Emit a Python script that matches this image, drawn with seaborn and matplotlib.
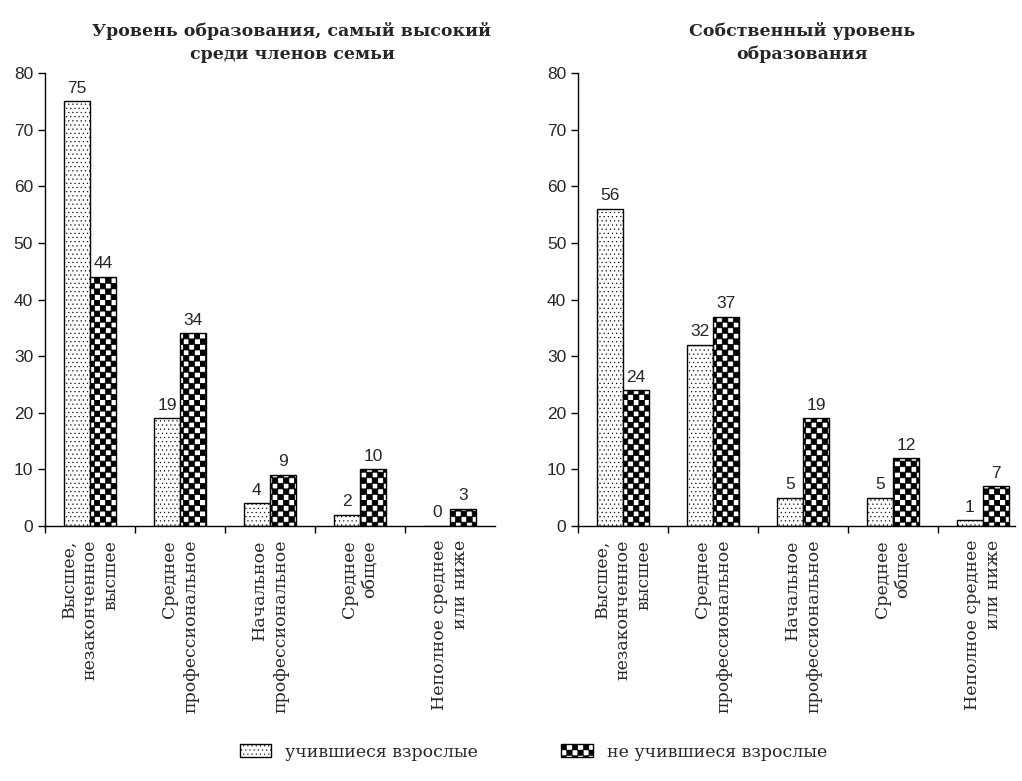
import warnings
import numpy as np
import pandas as pd
import matplotlib
matplotlib.use("Agg")
import matplotlib.pyplot as plt
import matplotlib.hatch as mhatch
from matplotlib.path import Path
import seaborn as sns

warnings.filterwarnings("ignore")

levels = ["Высшее,\nнезаконченное\nвысшее",
          "Среднее\nпрофессиональное",
          "Начальное\nпрофессиональное",
          "Среднее\nобщее",
          "Неполное среднее\nили ниже"]
groups = ["учившиеся взрослые", "не учившиеся взрослые"]

family_studied = [75, 19, 4, 2, 0]
family_not_studied = [44, 34, 9, 10, 3]
own_studied = [56, 32, 5, 5, 1]
own_not_studied = [24, 37, 19, 12, 7]

titles = ["Уровень образования, самый высокий\nсреди членов семьи",
          "Собственный уровень\nобразования"]


class CheckerHatch(mhatch.HatchPatternBase):
    # filled squares in a checkerboard, used for hatch letter 'c'
    def __init__(self, hatch, density):
        self.n = hatch.count("c") * density
        self.num_vertices = (self.n * self.n // 2) * 5

    def set_vertices_and_codes(self, vertices, codes):
        s = 1.0 / self.n
        k = 0
        for i in range(self.n):
            for j in range(self.n):
                if (i + j) % 2:
                    continue
                x, y = i * s, j * s
                vertices[k:k + 5] = [[x, y], [x + s, y], [x + s, y + s],
                                     [x, y + s], [x, y]]
                codes[k:k + 5] = [Path.MOVETO, Path.LINETO, Path.LINETO,
                                  Path.LINETO, Path.CLOSEPOLY]
                k += 5


mhatch._hatch_types.append(CheckerHatch)


def make_df(a, b):
    return pd.DataFrame({
        "level": levels * 2,
        "pct": a + b,
        "group": [groups[0]] * 5 + [groups[1]] * 5,
    })


sns.set_style("ticks")
plt.rcParams["hatch.linewidth"] = 0.3
serif = ["DejaVu Serif"]
sans = ["Liberation Sans", "DejaVu Sans"]

fig = plt.figure(figsize=(10.22, 7.81), dpi=100)
ax1 = fig.add_axes([0.0440, 0.3265, 0.4403, 0.5800])
ax2 = fig.add_axes([0.5656, 0.3265, 0.4271, 0.5800])

data = [make_df(family_studied, family_not_studied),
        make_df(own_studied, own_not_studied)]
xlims = [(-0.5, 4.5), (-0.5, 4.35)]
title_x = [292 / 1022, 802 / 1022]

for ax, df, xl, tx, title in zip([ax1, ax2], data, xlims, title_x, titles):
    sns.barplot(data=df, x="level", y="pct", hue="group", ax=ax,
                palette=["white", "white"], width=0.58, edgecolor="black",
                linewidth=1.0, legend=False, errorbar=None)
    for cont, hatch, hlw in zip(ax.containers, ["....", "ccc"], [0.35, 0.55]):
        for p in cont.patches:
            p.set_hatch(hatch)
            if hasattr(p, "set_hatch_linewidth"):
                p.set_hatch_linewidth(hlw)
        ax.bar_label(cont, padding=4, fontsize=12.5, family=sans)

    ax.set_ylim(0, 80)
    ax.set_xlim(*xl)
    ax.set_yticks(np.arange(0, 81, 10))
    ax.set_xlabel("")
    ax.set_ylabel("")
    ax.set_xticks(np.arange(5))
    ax.set_xticklabels(levels, rotation=90, family=serif, fontsize=12.5,
                       va="top", ha="center", multialignment="right",
                       linespacing=1.3)
    ax.set_xticks(np.arange(-0.5, xl[1], 1), minor=True)
    ax.tick_params(axis="x", which="major", length=0, pad=10)
    ax.tick_params(axis="x", which="minor", length=5, width=1, color="black")
    ax.tick_params(axis="y", length=5, width=1, color="black", labelsize=12.5)
    for lab in ax.get_yticklabels():
        lab.set_family(sans)
    for side in ["top", "right"]:
        ax.spines[side].set_visible(False)
    for side in ["left", "bottom"]:
        ax.spines[side].set_color("black")
        ax.spines[side].set_linewidth(1.0)
    fig.text(tx, 0.972, title, ha="center", va="top", family=serif,
             fontweight="bold", fontsize=12.5, linespacing=1.45)

handles = [ax1.containers[0].patches[0], ax1.containers[1].patches[0]]
fig.legend(handles, groups, loc="center", bbox_to_anchor=(0.522, 0.037),
           ncol=2, frameon=False, prop={"family": serif, "size": 12.5},
           handlelength=1.8, handleheight=0.8, handletextpad=0.8,
           columnspacing=4.8)

fig.savefig("out.png", dpi=100)
